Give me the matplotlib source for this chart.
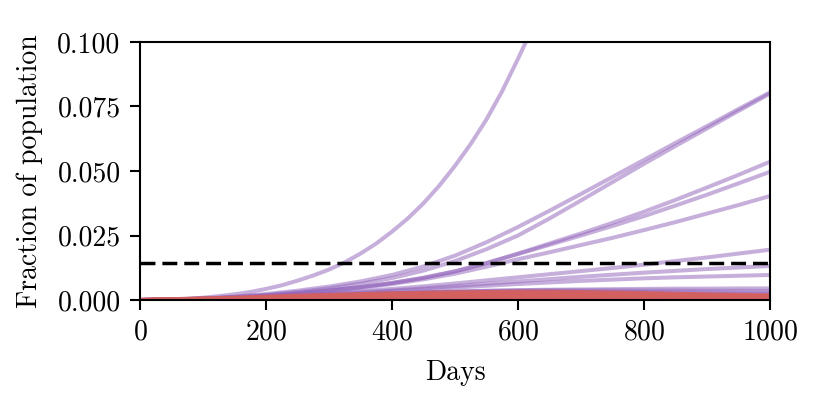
import numpy as np
import matplotlib
matplotlib.use("Agg")
import matplotlib.pyplot as plt

plt.rcParams['font.family'] = 'serif'
plt.rcParams['font.serif'] = ['cmr10']
plt.rcParams['mathtext.fontset'] = 'cm'
plt.rcParams['axes.formatter.use_mathtext'] = True

days = np.arange(0, 1001, 50)
days_fast = np.arange(0, 651, 25)

# fastest run (purple), read every 25 days until it leaves the plot
s_fast = [0, 0.0001, 0.0003, 0.0005, 0.0009, 0.0015, 0.0022, 0.0031, 0.0043, 0.0057,
          0.0075, 0.0095, 0.0118, 0.0146, 0.0180, 0.0219, 0.0265, 0.0316, 0.0375, 0.0443,
          0.0520, 0.0605, 0.0700, 0.0810, 0.0935, 0.1065, 0.1200]

# other growing runs (purple)
a_upper = [0, 0.0002, 0.0006, 0.0013, 0.0023, 0.0036, 0.0052, 0.0072, 0.0097, 0.0130,
           0.0172, 0.0224, 0.0283, 0.0346, 0.0411, 0.0477, 0.0543, 0.0609, 0.0674, 0.0740, 0.0805]
a_lower = [0, 0.0002, 0.0005, 0.0011, 0.0020, 0.0031, 0.0045, 0.0063, 0.0085, 0.0114,
           0.0151, 0.0197, 0.0250, 0.0316, 0.0386, 0.0457, 0.0528, 0.0597, 0.0665, 0.0733, 0.0800]
b_run = [0, 0.0002, 0.0005, 0.0010, 0.0017, 0.0026, 0.0037, 0.0050, 0.0066, 0.0086,
         0.0111, 0.0143, 0.0180, 0.0219, 0.0258, 0.0299, 0.0342, 0.0388, 0.0436, 0.0485, 0.0536]
c_run = [0, 0.0002, 0.0005, 0.0010, 0.0017, 0.0026, 0.0037, 0.0050, 0.0066, 0.0086,
         0.0111, 0.0143, 0.0178, 0.0214, 0.0250, 0.0287, 0.0325, 0.0366, 0.0408, 0.0452, 0.0497]
d_run = [0, 0.0002, 0.0005, 0.0010, 0.0017, 0.0025, 0.0035, 0.0047, 0.0062, 0.0080,
         0.0102, 0.0129, 0.0158, 0.0185, 0.0213, 0.0241, 0.0271, 0.0302, 0.0335, 0.0368, 0.0403]
e_run = [0, 0.0001, 0.0004, 0.0008, 0.0013, 0.0019, 0.0026, 0.0034, 0.0043, 0.0053,
         0.0064, 0.0076, 0.0088, 0.0100, 0.0112, 0.0124, 0.0137, 0.0151, 0.0165, 0.0180, 0.0195]
f_run = [0, 0.0001, 0.0004, 0.0008, 0.0013, 0.0018, 0.0024, 0.0030, 0.0037, 0.0045,
         0.0054, 0.0063, 0.0072, 0.0081, 0.0090, 0.0098, 0.0106, 0.0113, 0.0120, 0.0126, 0.0132]
g_run = [0, 0.0001, 0.0003, 0.0007, 0.0011, 0.0016, 0.0021, 0.0027, 0.0034, 0.0041,
         0.0048, 0.0055, 0.0062, 0.0068, 0.0074, 0.0079, 0.0084, 0.0088, 0.0091, 0.0094, 0.0097]
# slow runs (purple)
h1_run = [0, 0.0001, 0.0003, 0.0006, 0.0010, 0.0014, 0.0018, 0.0022, 0.0026, 0.0030,
          0.0033, 0.0036, 0.0038, 0.0040, 0.0041, 0.0042, 0.0043, 0.0044, 0.0044, 0.0045, 0.0045]
h2_run = [0, 0.0001, 0.0003, 0.0006, 0.0010, 0.0014, 0.0018, 0.0022, 0.0026, 0.0029,
          0.0032, 0.0035, 0.0037, 0.0038, 0.0038, 0.0038, 0.0037, 0.0037, 0.0036, 0.0036, 0.0035]
h3_run = [0, 0.0001, 0.0003, 0.0006, 0.0009, 0.0013, 0.0017, 0.0021, 0.0025, 0.0028,
          0.0031, 0.0033, 0.0034, 0.0035, 0.0034, 0.0033, 0.0032, 0.0031, 0.0030, 0.0029, 0.0028]
h4_run = [0, 0.0001, 0.0003, 0.0005, 0.0008, 0.0012, 0.0016, 0.0020, 0.0024, 0.0027,
          0.0030, 0.0031, 0.0032, 0.0031, 0.0030, 0.0028, 0.0027, 0.0025, 0.0024, 0.0023, 0.0022]
h5_run = [0, 0.0001, 0.0002, 0.0003, 0.0005, 0.0007, 0.0009, 0.0011, 0.0013, 0.0015,
          0.0016, 0.0017, 0.0018, 0.0018, 0.0017, 0.0016, 0.0015, 0.0013, 0.0012, 0.0011, 0.0010]
purple_runs = [a_upper, a_lower, b_run, c_run, d_run, e_run, f_run, g_run,
               h1_run, h2_run, h3_run, h4_run, h5_run]

# red runs
r1_run = [0, 0.0003, 0.0006, 0.0009, 0.0013, 0.0017, 0.0020, 0.0023, 0.0026, 0.0028,
          0.0030, 0.0031, 0.0032, 0.0032, 0.0031, 0.0029, 0.0027, 0.0024, 0.0022, 0.0020, 0.0018]
r2_run = [0, 0.0002, 0.0005, 0.0007, 0.0010, 0.0013, 0.0015, 0.0017, 0.0019, 0.0021,
          0.0023, 0.0024, 0.0025, 0.0025, 0.0024, 0.0023, 0.0021, 0.0019, 0.0017, 0.0015, 0.0014]
r3_run = [0, 0.0002, 0.0003, 0.0005, 0.0007, 0.0009, 0.0011, 0.0012, 0.0014, 0.0015,
          0.0016, 0.0017, 0.0018, 0.0018, 0.0017, 0.0016, 0.0015, 0.0014, 0.0013, 0.0012, 0.0011]
r4_run = [0, 0.0001, 0.0002, 0.0003, 0.0004, 0.0005, 0.0006, 0.0007, 0.0008, 0.0009,
          0.0010, 0.0011, 0.0011, 0.0011, 0.0011, 0.0010, 0.0010, 0.0009, 0.0009, 0.0008, 0.0008]
r5_run = [0, 0.0001, 0.0001, 0.0002, 0.0002, 0.0003, 0.0003, 0.0004, 0.0004, 0.0005,
          0.0005, 0.0005, 0.0006, 0.0006, 0.0006, 0.0005, 0.0005, 0.0005, 0.0005, 0.0004, 0.0004]
red_runs = [r1_run, r2_run, r3_run, r4_run, r5_run]

threshold = 0.0143

PURPLE = '#9467bd'
RED = '#d45f5f'
FS = 20

fig = plt.figure(figsize=(8.3, 4.15), dpi=100)
ax = fig.add_axes([0.1687, 0.2771, 0.7590, 0.6217])

ax.plot(days_fast, s_fast, color=PURPLE, alpha=0.52, lw=2.9, solid_capstyle='butt')
for run in purple_runs:
    ax.plot(days, run, color=PURPLE, alpha=0.52, lw=2.9, solid_capstyle='butt')
for run in red_runs:
    ax.plot(days, run, color=RED, alpha=0.9, lw=2.9, solid_capstyle='butt')

ax.axhline(threshold, color='black', lw=2.5, ls=(0, (4.3, 2)))

ax.set_xlim(0, 1000)
ax.set_ylim(0, 0.1)
ax.set_xticks([0, 200, 400, 600, 800, 1000])
ax.set_yticks([0, 0.025, 0.05, 0.075, 0.1])
ax.set_yticklabels(['0.000', '0.025', '0.050', '0.075', '0.100'])
ax.set_xlabel('Days', fontsize=FS, labelpad=10)
ax.set_ylabel('Fraction of population', fontsize=FS, labelpad=10)
ax.tick_params(labelsize=FS, width=1.5, length=7, pad=7)
for sp in ax.spines.values():
    sp.set_linewidth(1.5)

fig.savefig('out.png', dpi=100)
